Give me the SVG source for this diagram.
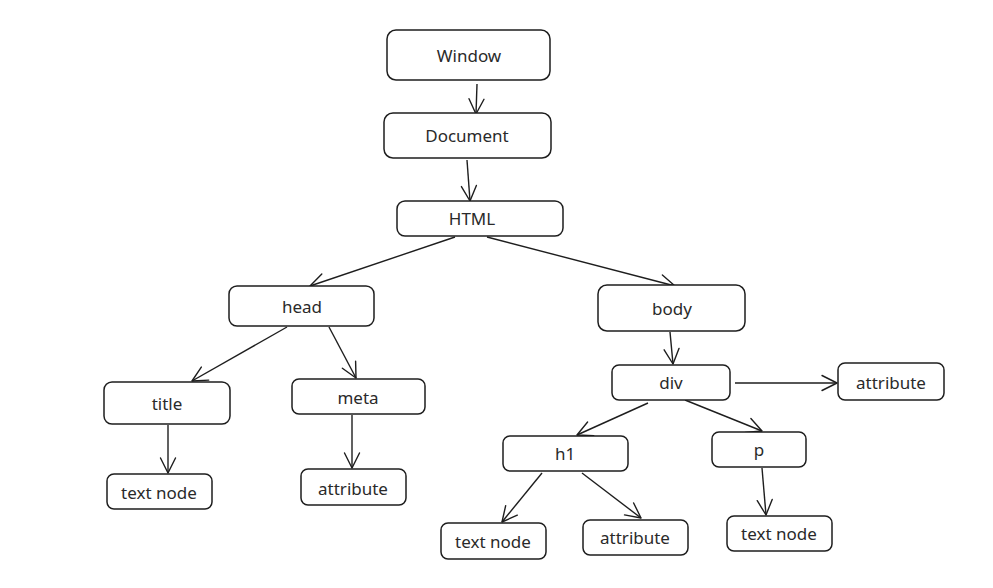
<svg xmlns="http://www.w3.org/2000/svg" width="993" height="588" viewBox="0 0 993 588">
<style>
.n rect{fill:#ffffff;stroke:#1e1e1e;stroke-width:1.5}
.n text{font-family:"Noto Sans","Liberation Sans",sans-serif;font-size:17px;fill:#2a2a2a;text-anchor:middle;dominant-baseline:central}
.c line{stroke:#1e1e1e;stroke-width:1.4;fill:none;marker-end:url(#ah)}
</style>
<defs>
<marker id="ah" markerUnits="userSpaceOnUse" markerWidth="22" markerHeight="22" viewBox="-18 -11 22 22" refX="0" refY="0" orient="auto">
<path d="M-15,-7.5 L0,0 L-15,7.5" fill="none" stroke="#1e1e1e" stroke-width="1.4" stroke-linecap="round" stroke-linejoin="round"/>
</marker>
</defs>
<rect width="993" height="588" fill="#ffffff"/>
<g class="c" id="connectors">
<line x1="477" y1="84" x2="476" y2="114"/>
<line x1="467" y1="160" x2="470" y2="201"/>
<line x1="455" y1="237" x2="310" y2="286"/>
<line x1="487" y1="237" x2="675" y2="286"/>
<line x1="287" y1="327" x2="192" y2="381"/>
<line x1="329" y1="327" x2="356" y2="378"/>
<line x1="168" y1="425" x2="168" y2="473"/>
<line x1="352" y1="415" x2="352" y2="468"/>
<line x1="670" y1="332" x2="673" y2="364"/>
<line x1="735" y1="383" x2="837" y2="383"/>
<line x1="648" y1="403" x2="577" y2="435"/>
<line x1="685" y1="400" x2="762" y2="431"/>
<line x1="542" y1="473" x2="502" y2="522"/>
<line x1="582" y1="473" x2="641" y2="518"/>
<line x1="762" y1="468" x2="766" y2="515"/>
</g>
<g class="n" id="window"><rect x="387" y="30" width="163" height="50" rx="9"/><text x="469" y="55">Window</text></g>
<g class="n" id="document"><rect x="384" y="113" width="167" height="45" rx="9"/><text x="467" y="135">Document</text></g>
<g class="n" id="html"><rect x="397" y="201" width="166" height="35" rx="8"/><text x="472" y="218">HTML</text></g>
<g class="n" id="head"><rect x="229" y="286" width="145" height="40" rx="8"/><text x="302" y="306">head</text></g>
<g class="n" id="body"><rect x="598" y="285" width="147" height="46" rx="9"/><text x="672" y="308">body</text></g>
<g class="n" id="title"><rect x="104" y="382" width="126" height="42" rx="8"/><text x="167" y="403">title</text></g>
<g class="n" id="meta"><rect x="292" y="379" width="133" height="35" rx="7"/><text x="358" y="397">meta</text></g>
<g class="n" id="title-text"><rect x="107" y="474" width="105" height="35" rx="7"/><text x="159" y="492">text node</text></g>
<g class="n" id="meta-attr"><rect x="301" y="469" width="105" height="36" rx="7"/><text x="353" y="488">attribute</text></g>
<g class="n" id="div"><rect x="612" y="365" width="118" height="35" rx="7"/><text x="671" y="382">div</text></g>
<g class="n" id="div-attr"><rect x="838" y="363" width="106" height="37" rx="7"/><text x="891" y="382">attribute</text></g>
<g class="n" id="h1"><rect x="503" y="436" width="125" height="35" rx="7"/><text x="565" y="453">h1</text></g>
<g class="n" id="p"><rect x="712" y="432" width="94" height="35" rx="7"/><text x="759" y="449">p</text></g>
<g class="n" id="h1-text"><rect x="441" y="523" width="105" height="36" rx="7"/><text x="493" y="541">text node</text></g>
<g class="n" id="h1-attr"><rect x="583" y="520" width="105" height="35" rx="7"/><text x="635" y="537">attribute</text></g>
<g class="n" id="p-text"><rect x="727" y="516" width="105" height="35" rx="7"/><text x="779" y="533">text node</text></g>
</svg>
